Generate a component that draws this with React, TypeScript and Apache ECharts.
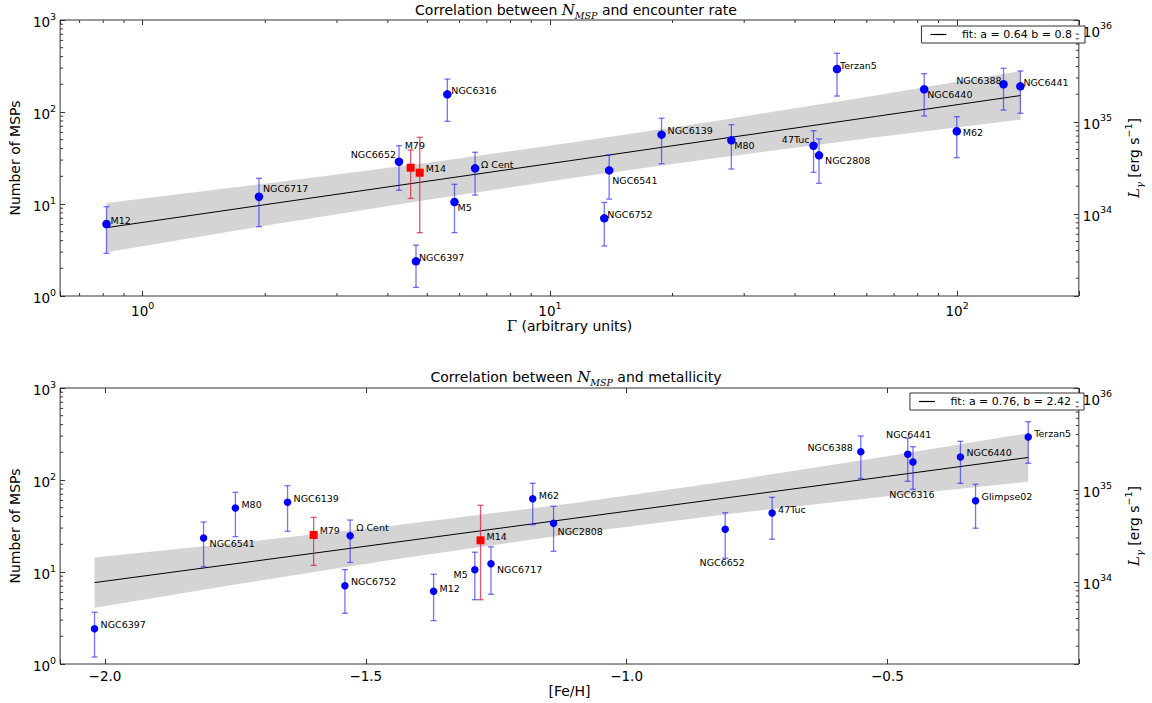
import React, { useEffect, useRef } from 'react';
import * as echarts from 'echarts';

// ---------------- Top panel: N_MSP vs encounter rate ----------------
const rateNames = ['M12', 'NGC6717', 'NGC6652', 'NGC6316', 'NGC6397', 'M5', 'Ω Cent', 'NGC6541', 'NGC6752', 'NGC6139', 'M80', 'Terzan5', '47Tuc', 'NGC2808', 'NGC6440', 'M62', 'NGC6388', 'NGC6441'];
const rateGamma = [0.815, 1.93, 4.26, 5.6, 4.69, 5.83, 6.55, 13.98, 13.6, 18.8, 27.9, 50.7, 44.4, 45.8, 83.0, 99.8, 130, 143];
const rateN = [6.06, 12.0, 28.8, 155.7, 2.38, 10.5, 24.4, 23.2, 6.99, 56.7, 49.3, 293, 43, 33.8, 176.5, 61.7, 200, 190];
const rateLo = [2.91, 5.67, 14.1, 79.2, 1.24, 4.88, 12.5, 11.3, 3.5, 27.4, 24.0, 149, 22.1, 16.8, 90.5, 31.9, 105, 96.8];
const rateHi = [9.35, 19.0, 43, 228, 3.58, 16.4, 36.5, 34.3, 10.4, 85.5, 72.8, 435, 62.6, 50.9, 261, 89, 298.6, 279];

const rateRedNames = ['M79', 'M14'];
const rateRedGamma = [4.55, 4.79];
const rateRedN = [24.8, 21.9];
const rateRedLo = [11.5, 4.88];
const rateRedHi = [38.6, 53.1];

const rateFitName = 'fit: a = 0.64 b = 0.8';
const rateFitX = [0.815, 1.995, 5.01, 11.22, 25.1, 63.1, 143.2];
const rateFitY = [5.53, 9.82, 17.7, 29.6, 49.7, 89.5, 151];
const rateBandUp = [10.26, 16.6, 28.1, 46.2, 78.9, 151, 278];
const rateBandLo = [2.99, 5.81, 11.1, 19.0, 31.3, 53.0, 82.4];

// ---------------- Bottom panel: N_MSP vs metallicity ----------------
const fehNames = ['NGC6397', 'NGC6541', 'M80', 'NGC6139', 'Ω Cent', 'NGC6752', 'M12', 'M5', 'NGC6717', 'M62', 'NGC2808', 'NGC6652', '47Tuc', 'NGC6388', 'NGC6441', 'NGC6316', 'NGC6440', 'Glimpse02', 'Terzan5'];
const fehX = [-2.02, -1.811, -1.75, -1.65, -1.53, -1.54, -1.37, -1.291, -1.26, -1.18, -1.14, -0.811, -0.721, -0.551, -0.461, -0.451, -0.36, -0.331, -0.23];
const fehN = [2.42, 23.4, 49.6, 57.2, 24.8, 7.1, 6.17, 10.6, 12.3, 62.6, 33.8, 29.1, 43.8, 203, 190, 157, 178, 59.6, 293];
const fehLo = [1.19, 11.4, 24.2, 27.7, 12.7, 3.56, 2.96, 5.0, 5.72, 32.7, 16.8, 14.1, 22.7, 104, 96.8, 79.2, 92, 29.9, 152];
const fehHi = [3.65, 34.9, 73.5, 86.7, 36.7, 10.6, 9.44, 16.4, 18.8, 92.1, 51.8, 44.1, 64.8, 301, 284, 230, 263.6, 89.9, 430];

const fehRedNames = ['M79', 'M14'];
const fehRedX = [-1.6, -1.28];
const fehRedN = [25.3, 22.1];
const fehRedLo = [11.8, 5.0];
const fehRedHi = [39.3, 53.1];

const fehFitName = 'fit: a = 0.76, b = 2.42';
const fehFitX = [-2.02, -1.75, -1.45, -1.1, -0.8, -0.5, -0.23];
const fehFitY = [7.67, 12.3, 20.8, 38.4, 64.9, 109.6, 175.8];
const fehBandUp = [14.4, 20.7, 31.8, 56.1, 98.2, 181, 323];
const fehBandLo = [4.09, 7.31, 13.6, 26.2, 42.9, 66.4, 95.7];

// ---------------- Axis ranges ----------------
const rateXRange = [0.627, 199];
const fehXRange = [-2.086, -0.133];
const nRange = [1, 1000];
const lumRange = [1.28e33, 1.28e36];

// ---------------- Label placement (layout only) ----------------
const rateLabelPos: Record<string, [string, number, number]> = {
  'M12': ['left', 4, -4], 'NGC6717': ['left', 4, -8], 'NGC6652': ['right', -3, -7], 'M79': ['left', -6, -22],
  'M14': ['left', 6, -4], 'NGC6316': ['left', 4, -4], 'NGC6397': ['left', 3, -4], 'M5': ['left', 3, 5],
  'Ω Cent': ['left', 6, -4], 'NGC6541': ['left', 3, 10], 'NGC6752': ['left', 3, -4], 'NGC6139': ['left', 6, -4],
  'M80': ['left', 3, 5], 'Terzan5': ['left', 3, -4], '47Tuc': ['right', -4, -6], 'NGC2808': ['left', 6, 5],
  'NGC6440': ['left', 3, 5], 'M62': ['left', 6, 1], 'NGC6388': ['right', -2, -4], 'NGC6441': ['left', 3, -4],
};
const fehLabelPos: Record<string, [string, number, number]> = {
  'NGC6397': ['left', 6, -4], 'NGC6541': ['left', 6, 5], 'M80': ['left', 6, -4], 'NGC6139': ['left', 6, -4],
  'M79': ['left', 6, -4], 'Ω Cent': ['left', 6, -8], 'NGC6752': ['left', 6, -4], 'M12': ['left', 6, -3],
  'M5': ['right', -7, 5], 'M14': ['left', 6, -4], 'NGC6717': ['left', 6, 6], 'M62': ['left', 6, -3],
  'NGC2808': ['left', 4, 8], 'NGC6652': ['center', -3, 33], '47Tuc': ['left', 6, -3], 'NGC6388': ['right', -8, -4],
  'NGC6441': ['center', 1, -20], 'NGC6316': ['center', -1, 33], 'NGC6440': ['left', 6, -4], 'Glimpse02': ['left', 6, -4],
  'Terzan5': ['left', 6, -4],
};

const FONT = 'DejaVu Sans';
const SERIF = 'DejaVu Serif';
const AXIS_COLOR = '#333';
const BLUE = '#0000ff';
const BLUE_ERR = 'rgba(40,40,255,0.65)';
const RED = '#ff0000';
const RED_ERR = 'rgba(220,30,70,0.75)';
const BAND = '#d4d4d4';

function minorLogTicks(range: number[]) {
  const out: number[] = [];
  const e0 = Math.floor(Math.log10(range[0]));
  const e1 = Math.ceil(Math.log10(range[1]));
  for (let e = e0; e <= e1; e++) {
    for (let k = 2; k <= 9; k++) {
      const v = k * Math.pow(10, e);
      if (v > range[0] && v < range[1]) out.push(v);
    }
  }
  return out;
}

function isPow10(v: number) {
  const l = Math.log10(v);
  return Math.abs(l - Math.round(l)) < 1e-6;
}
const powLabel = (v: number) => (isPow10(v) ? `{b|10}{s|${Math.round(Math.log10(v))}}` : '');
const powRich = {
  b: { fontSize: 13.5, fontFamily: FONT, color: '#000', verticalAlign: 'bottom' },
  s: { fontSize: 9.5, fontFamily: FONT, color: '#000', verticalAlign: 'top', padding: [0, 0, 8, 0] },
};

function logAxis(extra: any) {
  return {
    type: 'log',
    logBase: 10,
    axisLine: { show: false },
    axisTick: { show: true, inside: true, length: 5, lineStyle: { color: AXIS_COLOR, width: 1 } },
    splitLine: { show: false },
    minorTick: { show: false },
    axisLabel: { formatter: powLabel, rich: powRich, margin: 4 },
    ...extra,
  };
}

function tickLine(x1: number, y1: number, x2: number, y2: number) {
  return { type: 'line', shape: { x1, y1, x2, y2 }, style: { stroke: AXIS_COLOR, lineWidth: 1 } };
}

function minorTickSeries(xi: number, yi: number, xMinor: number[], yMinor: number[], xr: number[], yr: number[], right: boolean) {
  return {
    type: 'custom', xAxisIndex: xi, yAxisIndex: yi, z: 10, silent: true, clip: false,
    data: [[xr[0], yr[0]]], encode: { x: 0, y: 1 },
    renderItem: (_p: any, api: any) => {
      const L = 3;
      const ch: any[] = [];
      xMinor.forEach((v) => {
        const b = api.coord([v, yr[0]]);
        const t = api.coord([v, yr[1]]);
        ch.push(tickLine(b[0], b[1], b[0], b[1] - L));
        ch.push(tickLine(t[0], t[1], t[0], t[1] + L));
      });
      yMinor.forEach((v) => {
        if (right) {
          const r = api.coord([xr[1], v]);
          ch.push(tickLine(r[0], r[1], r[0] - L, r[1]));
        } else {
          const l = api.coord([xr[0], v]);
          ch.push(tickLine(l[0], l[1], l[0] + L, l[1]));
        }
      });
      return { type: 'group', children: ch };
    },
  };
}

function bandSeries(xi: number, yi: number, xs: number[], up: number[], lo: number[]) {
  return {
    type: 'custom', xAxisIndex: xi, yAxisIndex: yi, z: 1, silent: true,
    data: [[xs[0], up[0]]], encode: { x: 0, y: 1 },
    renderItem: (_p: any, api: any) => {
      const pts = xs.map((x, i) => api.coord([x, up[i]])).concat(xs.map((x, i) => api.coord([x, lo[i]])).reverse());
      return { type: 'polygon', shape: { points: pts }, style: { fill: BAND, stroke: 'none' } };
    },
  };
}

function fitSeries(xi: number, yi: number, name: string, xs: number[], ys: number[]) {
  return {
    type: 'line', name, xAxisIndex: xi, yAxisIndex: yi, z: 2, symbol: 'none', silent: true,
    lineStyle: { color: '#000', width: 1 }, itemStyle: { color: '#000' },
    data: xs.map((x, i) => [x, ys[i]]),
  };
}

function errSeries(xi: number, yi: number, xs: number[], lo: number[], hi: number[], color: string) {
  return {
    type: 'custom', xAxisIndex: xi, yAxisIndex: yi, z: 3, silent: true,
    data: xs.map((x, i) => [x, lo[i], hi[i]]), encode: { x: 0, y: [1, 2] },
    renderItem: (_p: any, api: any) => {
      const x = api.value(0);
      const p1 = api.coord([x, api.value(1)]);
      const p2 = api.coord([x, api.value(2)]);
      const cw = 3;
      const st = { stroke: color, lineWidth: 1.3 };
      return {
        type: 'group', children: [
          { type: 'line', shape: { x1: p1[0], y1: p1[1], x2: p2[0], y2: p2[1] }, style: st },
          { type: 'line', shape: { x1: p1[0] - cw, y1: p1[1], x2: p1[0] + cw, y2: p1[1] }, style: st },
          { type: 'line', shape: { x1: p2[0] - cw, y1: p2[1], x2: p2[0] + cw, y2: p2[1] }, style: st },
        ],
      };
    },
  };
}

function pointSeries(xi: number, yi: number, names: string[], xs: number[], ys: number[], pos: Record<string, [string, number, number]>, symbol: string, size: number, color: string) {
  return {
    type: 'scatter', xAxisIndex: xi, yAxisIndex: yi, z: 5, symbol, symbolSize: size, silent: true,
    itemStyle: { color, opacity: 1 },
    data: names.map((n, i) => {
      const p = pos[n] || ['left', 4, -4];
      return {
        name: n, value: [xs[i], ys[i]],
        label: {
          show: true, position: 'inside', align: p[0], verticalAlign: 'middle', offset: [p[1], p[2]],
          formatter: n, color: '#000', fontSize: 9.5, fontFamily: FONT, textBorderWidth: 0,
        },
      };
    }),
  };
}

function titleRich() {
  return {
    n: { fontSize: 14, fontFamily: FONT, fontWeight: 'normal', color: '#000', verticalAlign: 'bottom' },
    m: { fontSize: 15, fontFamily: SERIF, fontStyle: 'italic', fontWeight: 'normal', color: '#000', verticalAlign: 'bottom' },
    s: { fontSize: 9.5, fontFamily: SERIF, fontStyle: 'italic', fontWeight: 'normal', color: '#000', verticalAlign: 'bottom', padding: [0, 0, -3, 0] },
  };
}

function buildOption() {
  const legendCommon = {
    orient: 'horizontal', borderColor: AXIS_COLOR, borderWidth: 1, borderRadius: 0, backgroundColor: '#fff',
    padding: [3, 13, 3, 9], itemWidth: 16, itemHeight: 1.2, icon: 'rect',
    formatter: (n: string) => '   ' + n,
    textStyle: { fontSize: 11, color: '#000', fontFamily: FONT },
  };
  const lumName = '{i|L}{g|γ}{n| [erg s}{e|−1}{n|]}';
  const lumRich = {
    i: { fontSize: 15, fontFamily: SERIF, fontStyle: 'italic', color: '#000', verticalAlign: 'bottom' },
    g: { fontSize: 10, fontFamily: SERIF, fontStyle: 'italic', color: '#000', verticalAlign: 'bottom', padding: [0, 0, -3, 0] },
    n: { fontSize: 14, fontFamily: FONT, color: '#000', verticalAlign: 'bottom' },
    e: { fontSize: 9.5, fontFamily: FONT, color: '#000', verticalAlign: 'top', padding: [0, 0, 8, 0] },
  };
  const nameStyle = { fontSize: 14, color: '#000', fontFamily: FONT };

  const linLabel = (v: number) => {
    if (Math.abs(v * 2 - Math.round(v * 2)) > 1e-6) return '';
    return v.toFixed(1).replace('-', '−');
  };

  return {
    animation: false,
    backgroundColor: '#fff',
    textStyle: { fontFamily: FONT },
    title: [
      { text: '{n|Correlation between }{m|N}{s|MSP}{n| and encounter rate}', left: 'center', top: 2, padding: 0, textStyle: { fontWeight: 'normal', rich: titleRich() } },
      { text: '{n|Correlation between }{m|N}{s|MSP}{n| and metallicity}', left: 'center', top: 369, padding: 0, textStyle: { fontWeight: 'normal', rich: titleRich() } },
    ],
    legend: [
      { ...legendCommon, data: [rateFitName], right: 67, top: 26 },
      { ...legendCommon, data: [fehFitName], right: 68, top: 393 },
    ],
    grid: [
      { left: 58, top: 20, width: 1033, height: 276, show: true, borderColor: AXIS_COLOR, borderWidth: 1, backgroundColor: 'transparent' },
      { left: 59, top: 388, width: 1031, height: 276, show: true, borderColor: AXIS_COLOR, borderWidth: 1, backgroundColor: 'transparent' },
    ],
    xAxis: [
      logAxis({
        gridIndex: 0, position: 'bottom', min: rateXRange[0], max: rateXRange[1],
        name: '{g|Γ}{n| (arbitrary units)}', nameLocation: 'middle', nameGap: 20,
        nameTextStyle: { rich: { g: { fontSize: 15, fontFamily: SERIF, color: '#000' }, n: nameStyle } },
      }),
      logAxis({ gridIndex: 0, position: 'top', min: rateXRange[0], max: rateXRange[1], axisLabel: { show: false } }),
      {
        type: 'value', gridIndex: 1, position: 'bottom', min: fehXRange[0], max: fehXRange[1], splitNumber: 4,
        axisLine: { show: false }, splitLine: { show: false },
        axisTick: { show: true, inside: true, length: 5, lineStyle: { color: AXIS_COLOR } },
        axisLabel: { formatter: linLabel, fontSize: 13.5, color: '#000', fontFamily: FONT, margin: 5 },
        name: '[Fe/H]', nameLocation: 'middle', nameGap: 19, nameTextStyle: nameStyle,
      },
      {
        type: 'value', gridIndex: 1, position: 'top', min: fehXRange[0], max: fehXRange[1], splitNumber: 4,
        axisLine: { show: false }, splitLine: { show: false },
        axisTick: { show: true, inside: true, length: 5, lineStyle: { color: AXIS_COLOR } },
        axisLabel: { show: false },
      },
    ],
    yAxis: [
      logAxis({
        gridIndex: 0, position: 'left', min: nRange[0], max: nRange[1],
        name: 'Number of MSPs', nameLocation: 'middle', nameRotate: 90, nameGap: 34, nameTextStyle: nameStyle,
      }),
      logAxis({
        gridIndex: 0, position: 'right', min: lumRange[0], max: lumRange[1],
        name: lumName, nameLocation: 'middle', nameRotate: 90, nameGap: 42, nameTextStyle: { rich: lumRich },
      }),
      logAxis({
        gridIndex: 1, position: 'left', min: nRange[0], max: nRange[1],
        name: 'Number of MSPs', nameLocation: 'middle', nameRotate: 90, nameGap: 34, nameTextStyle: nameStyle,
      }),
      logAxis({
        gridIndex: 1, position: 'right', min: lumRange[0], max: lumRange[1],
        name: lumName, nameLocation: 'middle', nameRotate: 90, nameGap: 42, nameTextStyle: { rich: lumRich },
      }),
    ],
    series: [
      // top panel
      bandSeries(0, 0, rateFitX, rateBandUp, rateBandLo),
      fitSeries(0, 0, rateFitName, rateFitX, rateFitY),
      errSeries(0, 0, rateGamma, rateLo, rateHi, BLUE_ERR),
      errSeries(0, 0, rateRedGamma, rateRedLo, rateRedHi, RED_ERR),
      pointSeries(0, 0, rateNames, rateGamma, rateN, rateLabelPos, 'circle', 8.5, BLUE),
      pointSeries(0, 0, rateRedNames, rateRedGamma, rateRedN, rateLabelPos, 'rect', 8, RED),
      minorTickSeries(0, 0, minorLogTicks(rateXRange), minorLogTicks(nRange), rateXRange, nRange, false),
      minorTickSeries(0, 1, [], minorLogTicks(lumRange), rateXRange, lumRange, true),
      // bottom panel
      bandSeries(2, 2, fehFitX, fehBandUp, fehBandLo),
      fitSeries(2, 2, fehFitName, fehFitX, fehFitY),
      errSeries(2, 2, fehX, fehLo, fehHi, BLUE_ERR),
      errSeries(2, 2, fehRedX, fehRedLo, fehRedHi, RED_ERR),
      pointSeries(2, 2, fehNames, fehX, fehN, fehLabelPos, 'circle', 7.5, BLUE),
      pointSeries(2, 2, fehRedNames, fehRedX, fehRedN, fehLabelPos, 'rect', 8, RED),
      minorTickSeries(2, 2, [], minorLogTicks(nRange), fehXRange, nRange, false),
      minorTickSeries(2, 3, [], minorLogTicks(lumRange), fehXRange, lumRange, true),
    ],
  };
}

export default function App() {
  const ref = useRef<HTMLDivElement>(null);
  useEffect(() => {
    if (!ref.current) return;
    const chart = echarts.init(ref.current, null, { renderer: 'svg' });
    chart.setOption(buildOption() as any);
    return () => chart.dispose();
  }, []);
  return (
    <div
      ref={ref}
      style={{ position: 'absolute', left: 0, top: 0, width: 1152, height: 703, background: '#fff' }}
    />
  );
}
